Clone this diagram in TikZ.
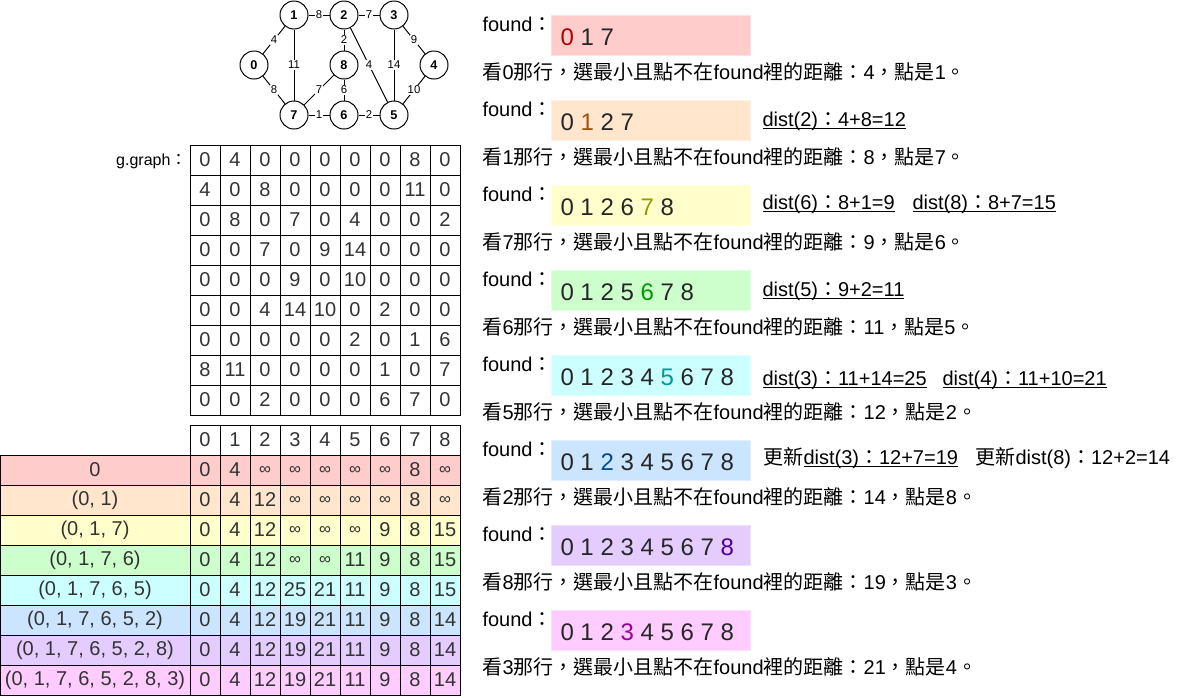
\documentclass[tikz,border=0pt]{standalone}
\usepackage{fontspec}
\setmainfont{Liberation Sans}
\newfontfamily\cjk{Noto Sans CJK TC}
\usetikzlibrary{positioning}

\definecolor{rowA}{HTML}{FFCCCC}
\definecolor{rowB}{HTML}{FFE6CC}
\definecolor{rowC}{HTML}{FFFFCC}
\definecolor{rowD}{HTML}{CCFFCC}
\definecolor{rowE}{HTML}{CCFFFF}
\definecolor{rowF}{HTML}{CCE5FF}
\definecolor{rowG}{HTML}{E5CCFF}
\definecolor{rowH}{HTML}{FFCCFF}
\definecolor{hlA}{HTML}{B20000}
\definecolor{hlB}{HTML}{A0520A}
\definecolor{hlC}{HTML}{999900}
\definecolor{hlD}{HTML}{009900}
\definecolor{hlE}{HTML}{009999}
\definecolor{hlF}{HTML}{004C99}
\definecolor{hlG}{HTML}{4C0099}
\definecolor{hlH}{HTML}{990099}

\newcommand\oo{{\fontsize{12.5}{12}\selectfont ∞}}
\newcommand\ulin[1]{\setbox0\hbox{#1}\rlap{\rule[-1.9pt]{\wd0}{0.75pt}}\box0}
\newcommand\lookrow[3]{{\cjk 看}#1{\cjk 那行，選最小且點不在}found{\cjk 裡的距離：}#2{\cjk ，點是}#3{\cjk 。}}

\begin{document}
\begin{tikzpicture}[
  x=0.75pt,
  y=-0.75pt,
  line width=0.75pt,
  gnode/.style={circle, draw, fill=white, minimum size=21pt, inner sep=0pt,
    font=\bfseries\fontsize{9.5}{11}\selectfont},
  elab/.style={fill=white, inner sep=0.8pt, font=\fontsize{8.5}{10}\selectfont},
  cell/.style={draw, minimum width=22.5pt, minimum height=22.5pt, inner sep=0pt,
    text=black!80, font=\fontsize{15}{18}\selectfont},
  labcell/.style={cell, minimum width=142.5pt},
  txt/.style={inner sep=0pt, font=\fontsize{15}{18}\selectfont},
  digits/.style={inner sep=0pt, text=black!85, font=\fontsize{18}{22}\selectfont},
  foundbox/.style={minimum width=149.25pt, minimum height=30pt, inner sep=0pt, anchor=north west}
]
\useasboundingbox (0,0) rectangle (1181,697);

% graph
\node[gnode] (n0) at (254,65) {0};
\node[gnode] (n1) at (294,15) {1};
\node[gnode] (n2) at (344,15) {2};
\node[gnode] (n3) at (394,15) {3};
\node[gnode] (n4) at (434,65) {4};
\node[gnode] (n5) at (394,115) {5};
\node[gnode] (n6) at (344,115) {6};
\node[gnode] (n7) at (294,115) {7};
\node[gnode] (n8) at (344,65) {8};
\draw (n0) -- node[elab] {4} (n1);
\draw (n0) -- node[elab] {8} (n7);
\draw (n1) -- node[elab] {8} (n2);
\draw (n1) -- node[elab] {11} (n7);
\draw (n2) -- node[elab] {7} (n3);
\draw (n2) -- node[elab] {2} (n8);
\draw (n2) -- node[elab] {4} (n5);
\draw (n3) -- node[elab] {9} (n4);
\draw (n3) -- node[elab] {14} (n5);
\draw (n4) -- node[elab] {10} (n5);
\draw (n7) -- node[elab] {7} (n8);
\draw (n7) -- node[elab] {1} (n6);
\draw (n8) -- node[elab] {6} (n6);
\draw (n6) -- node[elab] {2} (n5);

% g.graph matrix
\node[anchor=east, inner sep=0pt, font=\fontsize{12}{14}\selectfont] (gname) at (187,161) {g.graph{\cjk ：}};
\foreach \r/\vals in {
  0/{0,4,0,0,0,0,0,8,0},
  1/{4,0,8,0,0,0,0,11,0},
  2/{0,8,0,7,0,4,0,0,2},
  3/{0,0,7,0,9,14,0,0,0},
  4/{0,0,0,9,0,10,0,0,0},
  5/{0,0,4,14,10,0,2,0,0},
  6/{0,0,0,0,0,2,0,1,6},
  7/{8,11,0,0,0,0,1,0,7},
  8/{0,0,2,0,0,0,6,7,0}} {
  \foreach \v [count=\j from 0] in \vals
    \node[cell] (m-\r-\j) at ({205+30*\j},{160+30*\r}) {\v};
}

% dist table
\foreach \j in {0,...,8}
  \node[cell, fill=white] (h-\j) at ({205+30*\j},440) {\j};
\foreach \r/\lab/\fillc/\vals in {
  0/{0}/rowA/{0,4,\oo,\oo,\oo,\oo,\oo,8,\oo},
  1/{(0, 1)}/rowB/{0,4,12,\oo,\oo,\oo,\oo,8,\oo},
  2/{(0, 1, 7)}/rowC/{0,4,12,\oo,\oo,\oo,9,8,15},
  3/{(0, 1, 7, 6)}/rowD/{0,4,12,\oo,\oo,11,9,8,15},
  4/{(0, 1, 7, 6, 5)}/rowE/{0,4,12,25,21,11,9,8,15},
  5/{(0, 1, 7, 6, 5, 2)}/rowF/{0,4,12,19,21,11,9,8,14},
  6/{(0, 1, 7, 6, 5, 2, 8)}/rowG/{0,4,12,19,21,11,9,8,14},
  7/{(0, 1, 7, 6, 5, 2, 8, 3)}/rowH/{0,4,12,19,21,11,9,8,14}} {
  \node[labcell, fill=\fillc] (s-\r) at (95,{470+30*\r}) {\lab};
  \foreach \v [count=\j from 0] in \vals
    \node[cell, fill=\fillc] (t-\r-\j) at ({205+30*\j},{470+30*\r}) {\v};
}

% found steps
\foreach \k/\T/\fillc/\seq/\from/\dd/\nxt in {
  1/15/rowA/{\textcolor{hlA}{0} 1 7}/0/4/1,
  2/100/rowB/{0 \textcolor{hlB}{1} 2 7}/1/8/7,
  3/185/rowC/{0 1 2 6 \textcolor{hlC}{7} 8}/7/9/6,
  4/270/rowD/{0 1 2 5 \textcolor{hlD}{6} 7 8}/6/11/5,
  5/355/rowE/{0 1 2 3 4 \textcolor{hlE}{5} 6 7 8}/5/12/2,
  6/440/rowF/{0 1 \textcolor{hlF}{2} 3 4 5 6 7 8}/2/14/8,
  7/525/rowG/{0 1 2 3 4 5 6 7 \textcolor{hlG}{8}}/8/19/3,
  8/610/rowH/{0 1 2 \textcolor{hlH}{3} 4 5 6 7 8}/3/21/4} {
  \node[txt, anchor=base west] (found-\k) at (482,{\T+16}) {found{\cjk ：}};
  \node[foundbox, fill=\fillc, draw=\fillc!60!white] (box-\k) at (551,\T) {};
  \node[digits, anchor=base west] (seq-\k) at (560,{\T+30}) {\seq};
  \node[txt, anchor=base west] (look-\k) at (482,{\T+64}) {\lookrow{\from}{\dd}{\nxt}};
}

% distance updates
\node[txt, anchor=base west] (dist-2) at (762,126) {\ulin{dist(2){\cjk ：}4+8=12}};
\node[txt, anchor=base west] (dist-6) at (762,209) {\ulin{dist(6){\cjk ：}8+1=9}};
\node[txt, anchor=base west] (dist-8) at (912,209) {\ulin{dist(8){\cjk ：}8+7=15}};
\node[txt, anchor=base west] (dist-5) at (762,296) {\ulin{dist(5){\cjk ：}9+2=11}};
\node[txt, anchor=base west] (dist-3) at (762,385) {\ulin{dist(3){\cjk ：}11+14=25}};
\node[txt, anchor=base west] (dist-4) at (942,385) {\ulin{dist(4){\cjk ：}11+10=21}};
\node[txt, anchor=base west] (upd-3) at (763,464) {{\cjk 更新}\ulin{dist(3){\cjk ：}12+7=19}};
\node[txt, anchor=base west] (upd-8) at (975,464) {{\cjk 更新}dist(8){\cjk ：}12+2=14};
\end{tikzpicture}
\end{document}
